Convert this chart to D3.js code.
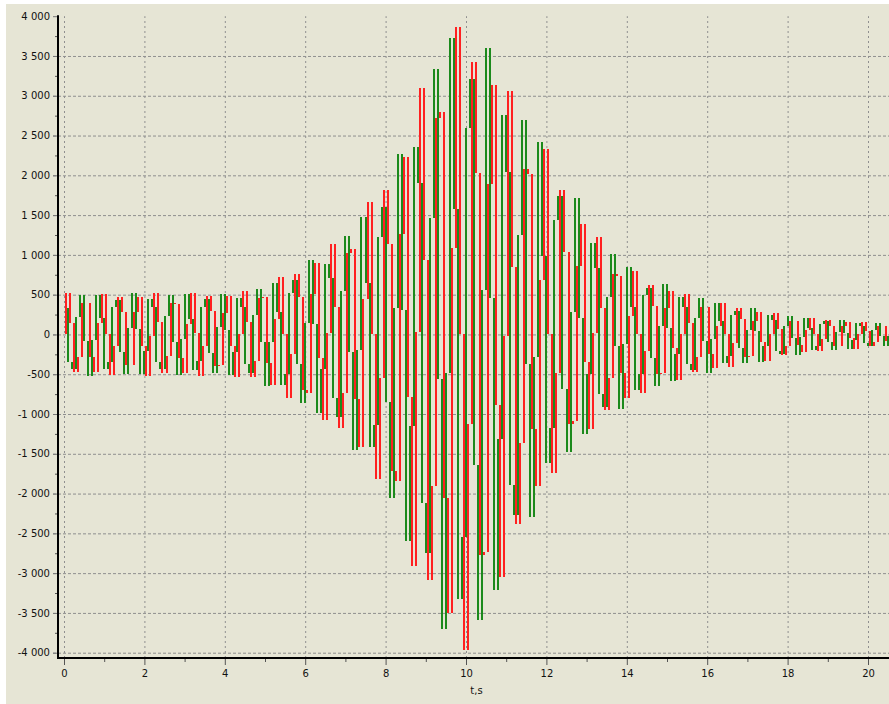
<!DOCTYPE html>
<html>
<head>
<meta charset="utf-8">
<script src="https://cdn.jsdelivr.net/npm/d3@7"></script>
<style>
    html, body { margin: 0; padding: 0; background: #ffffff; }
    svg { display: block; }
    .axis text { font-family: "DejaVu Sans", sans-serif; font-size: 10px; fill: #111; }
    .grid line { stroke: #8f8f8f; stroke-width: 1; }
</style>
</head>
<body>
<svg id="chart" width="889" height="704"></svg>
<script>
// Khoảng lấy mẫu (giây) của mỗi chuỗi, chuỗi xanh lệch nửa bước
const sampleStep = 0.1;
const greenShift = 0.05;

// Giá trị chuỗi đỏ, đọc gần đúng từ hình
const redValues = [
    0, 515, 150, -470, -280, 390, 390, -280, -470, 150, 510, 10, -510, -150, 470, 280, -390, -390, 280, 470, -140, -520,
    -20, 520, 160, -480, -270, 400, 380, -290, -480, 130, 520, 20, -520, -140, 480, 290, -400, -380, 270, 480, -150, -540,
    10, 550, 160, -540, -330, 460, 470, -360, -640, 190, 720, 10, -800, -240, 760, 470, -700, -730, 510, 900, -290, -1080,
    20, 1140, 340, -1180, -730, 1030, 1070, -810, -1410, 450, 1660, 10, -1820, -550, 1820, 1140, -1720, -1840, 1260, 2230, -780, -2910,
    30, 3100, 930, -3090, -1900, 2720, 2800, -2050, -3500, 1090, 3870, 10, -3960, -1120, 3430, 2030, -2770, -2730, 1890, 3130, -890, -3050,
    -20, 3060, 850, -2380, -1360, 2080, 2020, -1190, -1910, 680, 2330, 10, -1740, -480, 1810, 1040, -1120, -1090, 860, 1390, -340, -1190,
    20, 1220, 330, -950, -550, 760, 730, -490, -800, 230, 800, 0, -740, -210, 620, 360, -500, -490, 330, 540, -170, -570,
    10, 510, 140, -470, -280, 350, 340, -250, -420, 110, 390, 0, -410, -110, 330, 190, -280, -270, 170, 280, -90, -330,
    0, 270, 70, -260, -150, 170, 170, -130, -220, 60, 210, 0, -210, -60, 180, 110, -150, -140, 100, 160, -50, -180,
    10, 160, 40, -150, -90, 110, 100, -80
];

// Giá trị chuỗi xanh
const greenValues = [
    330, -350, -430, 220, 500, -80, -520, -70, 500, 210, -440, -340, 350, 430, -220, -500, 80, 520, 70, -500, -210, 440,
    340, -340, -440, 230, 490, -90, -510, -60, 510, 200, -450, -330, 340, 440, -230, -490, 90, 510, 60, -510, -220, 460,
    350, -370, -480, 250, 570, -100, -650, -90, 650, 280, -640, -500, 520, 680, -370, -860, 140, 930, 130, -990, -430, 890,
    710, -800, -1040, 540, 1240, -220, -1450, -190, 1480, 650, -1420, -1140, 1220, 1600, -850, -2050, 330, 2270, 310, -2600, -1150, 2360,
    1900, -2120, -2750, 1460, 3340, -560, -3700, -490, 3720, 1580, -3320, -2550, 2590, 3210, -1640, -3590, 560, 3600, 460, -3210, -1310, 2760,
    2040, -1890, -2270, 1250, 2700, -370, -2300, -280, 2420, 980, -1610, -1180, 1440, 1740, -690, -1480, 280, 1710, 210, -1250, -500, 1150,
    830, -750, -910, 470, 1010, -150, -940, -120, 850, 340, -700, -500, 490, 580, -300, -650, 100, 630, 80, -590, -240, 470,
    350, -370, -450, 210, 460, -80, -480, -60, 400, 170, -360, -270, 250, 300, -170, -360, 50, 330, 40, -340, -140, 250,
    180, -210, -250, 110, 230, -40, -260, -30, 210, 80, -190, -140, 130, 170, -90, -190, 30, 180, 20, -180, -70, 140,
    100, -110, -140, 60, 140, -20, -150, -20
];

// Nhãn trục
const xTicks = [0, 2, 4, 6, 8, 10, 12, 14, 16, 18, 20];
const yTicks = [-4000, -3500, -3000, -2500, -2000, -1500, -1000, -500, 0, 500, 1000, 1500, 2000, 2500, 3000, 3500, 4000];
const xLabel = "t,s";

const Chart = (() => {
    function draw() {
        const svg = d3.select("#chart");
        const width = 889, height = 704;

        // Nền trắng và khung màu be
        svg.append("rect").attr("width", width).attr("height", height).attr("fill", "#ffffff");
        svg.append("rect").attr("x", 6).attr("y", 4).attr("width", width - 6).attr("height", height - 4).attr("fill", "#e6e5d5");

        const axisX = 58, axisY = 658;
        const x = d3.scaleLinear().domain([0, 20]).range([64, 868]);
        const y = d3.scaleLinear().domain([-4000, 4000]).range([652.7, 16.2]);

        const locale = d3.formatLocale({ decimal: ".", thousands: " ", grouping: [3], currency: ["", ""], minus: "-" });
        const fmt = locale.format(",d");

        // Lưới ngang
        const gridY = svg.append("g").attr("class", "grid")
            .attr("transform", `translate(${axisX - 5},0)`)
            .call(d3.axisLeft(y).tickValues(yTicks.filter(v => v < 4000)).tickSize(-(width - axisX + 5)).tickFormat(""));
        gridY.select(".domain").remove();
        gridY.selectAll("line").attr("stroke-dasharray", "3,2");

        // Lưới dọc
        const gridX = svg.append("g").attr("class", "grid")
            .attr("transform", `translate(0,${axisY})`)
            .call(d3.axisBottom(x).tickValues(xTicks).tickSize(-(axisY - y(4000))).tickFormat(""));
        gridX.select(".domain").remove();
        gridX.selectAll("line").attr("stroke-dasharray", "2,3");

        // Mỗi bước lấy mẫu vẽ một vạch đứng từ giá trị trước tới giá trị sau
        const plot = svg.append("g").attr("shape-rendering", "crispEdges");
        function drawBars(values, shift, color, cls) {
            plot.selectAll(`.${cls}`)
                .data(d3.pairs(values))
                .join("line")
                .attr("class", cls)
                .attr("x1", (d, i) => x((i + 0.5) * sampleStep + shift))
                .attr("x2", (d, i) => x((i + 0.5) * sampleStep + shift))
                .attr("y1", d => y(d[0]))
                .attr("y2", d => y(d[1]))
                .attr("stroke", color)
                .attr("stroke-width", 2);
        }
        drawBars(redValues, 0, "#ff2020", "bar-red");
        drawBars(greenValues, greenShift, "#1c8a1c", "bar-green");

        // Trục y với nhãn
        const yAxis = svg.append("g").attr("class", "axis")
            .attr("transform", `translate(${axisX},0)`)
            .call(d3.axisLeft(y).tickValues(yTicks).tickSize(5).tickPadding(3).tickFormat(fmt));
        yAxis.select(".domain").remove();
        yAxis.selectAll(".tick line").attr("stroke", "#777");

        // Vạch phụ trục y
        const yMinor = svg.append("g")
            .attr("transform", `translate(${axisX},0)`)
            .call(d3.axisLeft(y).tickValues(d3.range(-3750, 4000, 500)).tickSize(3).tickFormat(""));
        yMinor.select(".domain").remove();
        yMinor.selectAll("line").attr("stroke", "#555");

        // Trục x với nhãn
        const xAxis = svg.append("g").attr("class", "axis")
            .attr("transform", `translate(0,${axisY})`)
            .call(d3.axisBottom(x).tickValues(xTicks).tickSize(7).tickPadding(5).tickFormat(d3.format("d")));
        xAxis.select(".domain").remove();
        xAxis.selectAll(".tick line").attr("stroke", "#555");

        // Vạch phụ trục x
        const xMinor = svg.append("g")
            .attr("transform", `translate(0,${axisY})`)
            .call(d3.axisBottom(x).tickValues(d3.range(1, 21, 2)).tickSize(4).tickFormat(""));
        xMinor.select(".domain").remove();
        xMinor.selectAll("line").attr("stroke", "#555");

        // Đường trục đậm
        svg.append("line")
            .attr("x1", axisX).attr("x2", axisX).attr("y1", y(4000) - 1).attr("y2", axisY + 1)
            .attr("stroke", "#000").attr("stroke-width", 2);
        svg.append("line")
            .attr("x1", axisX - 1).attr("x2", width).attr("y1", axisY).attr("y2", axisY)
            .attr("stroke", "#000").attr("stroke-width", 2);

        // Tên trục x
        svg.append("text")
            .attr("x", (x(0) + width) / 2).attr("y", 694)
            .attr("text-anchor", "middle")
            .style("font-family", "DejaVu Sans, sans-serif").style("font-size", "10px").style("fill", "#111")
            .text(xLabel);
    }
    return { draw };
})();

Chart.draw();
</script>
</body>
</html>
